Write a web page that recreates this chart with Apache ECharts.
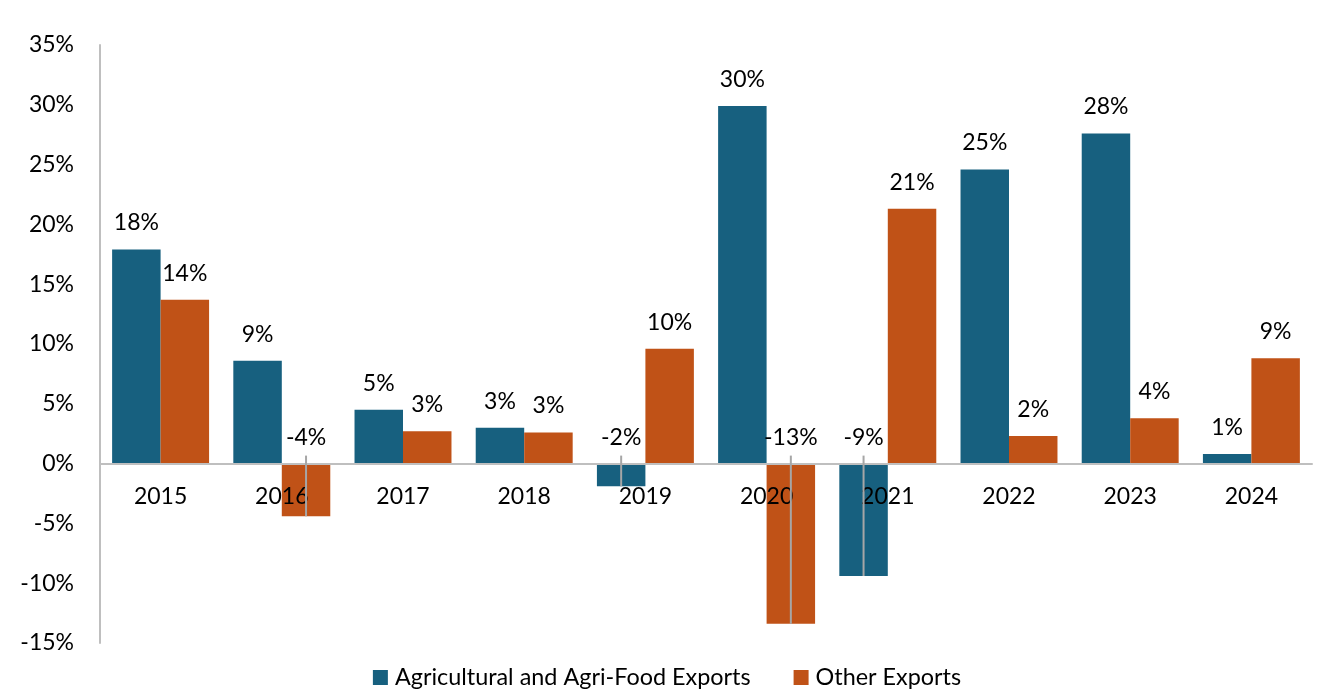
<!DOCTYPE html>
<html>
<head>
<meta charset="utf-8">
<script src="https://cdn.jsdelivr.net/npm/echarts@6/dist/echarts.min.js"></script>
<style>
html,body{margin:0;padding:0;background:#fff;}
#chart{width:1334px;height:696px;}
</style>
</head>
<body>
<div id="chart"></div>
<script>
const categories = ['2015','2016','2017','2018','2019','2020','2021','2022','2023','2024'];
const agriExports = [17.9, 8.6, 4.5, 3.0, -1.9, 29.9, -9.4, 24.6, 27.6, 0.8];
const otherExports = [13.7, -4.4, 2.7, 2.6, 9.6, -13.4, 21.3, 2.3, 3.8, 8.8];
const seriesNames = ['Agricultural and Agri-Food Exports', 'Other Exports'];
const yTickLabels = ['-15%','-10%','-5%','0%','5%','10%','15%','20%','25%','30%','35%'];
const colors = ['#17607F', '#C05217'];

const leaderData = [];
[agriExports, otherExports].forEach((arr, s) => {
  arr.forEach((v, i) => { if (v < 0) leaderData.push([i, v, s]); });
});

const FONT = 'Lato';
const FS = 23;
const Y_MIN = -15, Y_MAX = 35;
const GRID_TOP = 45, GRID_BOTTOM = 53, H = 696;
const plotH = H - GRID_TOP - GRID_BOTTOM;
const zeroFromBottom = plotH * (0 - Y_MIN) / (Y_MAX - Y_MIN);

const chart = echarts.init(document.getElementById('chart'));
const labelCfg = {
  show: true, position: 'top', distance: 15,
  color: '#000', fontSize: FS, fontFamily: FONT,
  formatter: p => Math.round(p.value) + '%'
};
chart.setOption({
  animation: false,
  textStyle: {fontFamily: FONT},
  grid: {left: 100, right: 22, top: GRID_TOP, bottom: GRID_BOTTOM, containLabel: false},
  legend: {
    data: seriesNames, bottom: 2, left: 'center',
    itemWidth: 15, itemHeight: 15, itemGap: 43,
    icon: 'rect',
    textStyle: {fontSize: 23.4, color: '#000', fontFamily: FONT, padding: [0, 0, 0, 2]}
  },
  xAxis: {
    type: 'category', data: categories, position: 'bottom', z: 10,
    offset: -zeroFromBottom,
    axisLine: {onZero: false, lineStyle: {color: '#bfbfbf', width: 2}},
    axisTick: {show: false},
    axisLabel: {fontSize: FS, color: '#000', margin: 21, fontFamily: FONT}
  },
  yAxis: {
    type: 'value', min: Y_MIN, max: Y_MAX, interval: 5,
    axisLine: {show: true, lineStyle: {color: '#bfbfbf', width: 2}},
    axisTick: {show: false},
    splitLine: {show: false},
    axisLabel: {fontSize: FS, color: '#000', margin: 26, fontFamily: FONT,
      formatter: v => yTickLabels[Math.round((v - Y_MIN) / 5)]}
  },
  series: [
    {name: seriesNames[0], type: 'bar', data: agriExports, itemStyle: {color: colors[0]},
     barGap: '0%', barCategoryGap: '20%', label: labelCfg},
    {name: seriesNames[1], type: 'bar', data: otherExports, itemStyle: {color: colors[1]},
     barGap: '0%', barCategoryGap: '20%', label: labelCfg},
    {type: 'custom', data: leaderData, z: 12, silent: true,
     renderItem: function (params, api) {
       const idx = api.value(0), v = api.value(1), s = api.value(2);
       const p0 = api.coord([idx, 0]);
       const p1 = api.coord([idx, v]);
       const band = api.size([1, 0])[0];
       const off = (s === 0 ? -1 : 1) * band * 0.2;
       return {type: 'line',
         shape: {x1: p0[0] + off, y1: p0[1] - 8, x2: p0[0] + off, y2: p1[1]},
         style: {stroke: '#a6a6a6', lineWidth: 2}};
     }}
  ]
});
</script>
</body>
</html>
